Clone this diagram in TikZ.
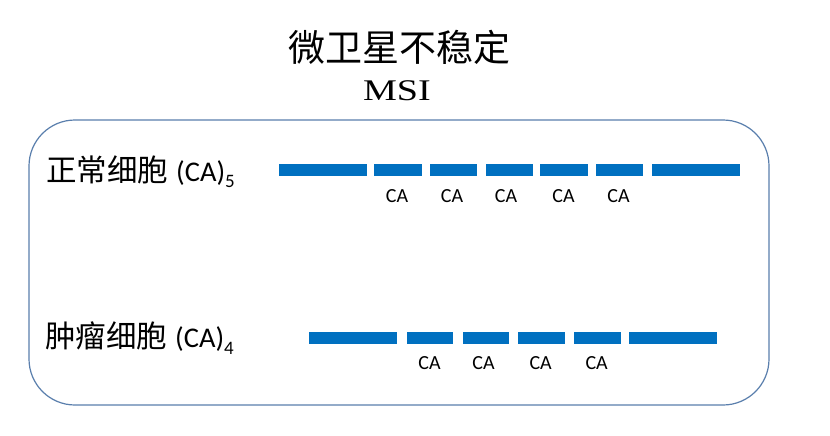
\documentclass[tikz,border=0pt]{standalone}
\usepackage{fontspec}
\setmainfont{Liberation Serif}
\newfontfamily\cjkfont{Noto Sans CJK SC}
\newfontfamily\calfont{Carlito}
\newfontfamily\msifont[FakeStretch=1.27]{Liberation Serif}
\definecolor{barblue}{HTML}{0070C0}
\definecolor{boxblue}{HTML}{5A7FAD}
\tikzset{
  barbox/.style={fill=barblue, draw=white, line width=0.4pt, inner sep=0pt, anchor=west, minimum height=13pt},
  calabel/.style={font=\calfont\fontsize{20}{24}\selectfont, text=black, inner sep=0pt},
  rowlabel/.style={anchor=west, inner sep=0pt, text=black},
}
\newcommand{\rowtext}[2]{{\cjkfont\fontsize{30.5}{34}\selectfont #1}\hspace{8pt}{\calfont\fontsize{28.5}{32}\selectfont (CA)\raisebox{-0.22em}{\fontsize{19}{19}\selectfont #2}}}
\begin{document}
\begin{tikzpicture}[x=1pt,y=-1pt]
\useasboundingbox[fill=white] (0,0) rectangle (830,436);
% title
\node[font=\cjkfont\fontsize{37}{42}\selectfont, inner sep=0pt] (title) at (399,47) {微卫星不稳定};
\node[font=\msifont\fontsize{30}{34}\selectfont, inner sep=0pt] (msi) at (397,91) {MSI};
% frame
\draw[boxblue, line width=1.2pt, rounded corners=46pt] (29,120) rectangle (769,405);
% top row
\node[rowlabel] (lab1) at (46,172) {\rowtext{正常细胞}{5}};
\node[barbox, minimum width=88.4pt] (t1) at (278.3,169.5) {};
\node[barbox, minimum width=48.4pt] (t2) at (373.3,169.5) {};
\node[barbox, minimum width=47.4pt] (t3) at (429.3,169.5) {};
\node[barbox, minimum width=47.7pt] (t4) at (485,169.5) {};
\node[barbox, minimum width=49pt]   (t5) at (539.3,169.5) {};
\node[barbox, minimum width=47.7pt] (t6) at (595,169.5) {};
\node[barbox, minimum width=89pt]   (t7) at (651,169.5) {};
\node[calabel] (ca1) at (397,196) {CA};
\node[calabel] (ca2) at (452,196) {CA};
\node[calabel] (ca3) at (506,196) {CA};
\node[calabel] (ca4) at (563.5,196) {CA};
\node[calabel] (ca5) at (618.5,196) {CA};
% bottom row
\node[rowlabel] (lab2) at (45,338) {\rowtext{肿瘤细胞}{4}};
\node[barbox, minimum width=88.4pt] (b1) at (308.3,338) {};
\node[barbox, minimum width=47.3pt] (b2) at (406,338) {};
\node[barbox, minimum width=47.6pt] (b3) at (461.7,338) {};
\node[barbox, minimum width=47.7pt] (b4) at (517.3,338) {};
\node[barbox, minimum width=47.7pt] (b5) at (573.3,338) {};
\node[barbox, minimum width=89pt]   (b6) at (627.7,338) {};
\node[calabel] (cb1) at (429.5,363.5) {CA};
\node[calabel] (cb2) at (483.5,363.5) {CA};
\node[calabel] (cb3) at (540.7,363.5) {CA};
\node[calabel] (cb4) at (596.7,363.5) {CA};
\end{tikzpicture}
\end{document}
